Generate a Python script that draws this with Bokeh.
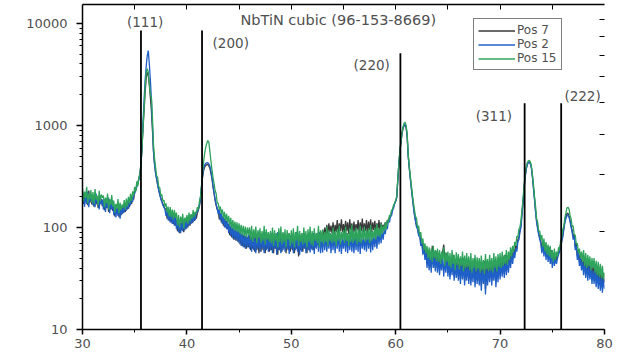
import numpy as np
from bokeh.plotting import figure
from bokeh.models import (Range1d, LinearAxis, FixedTicker, Legend, LegendItem)
from bokeh.core.properties import value
from bokeh.embed import file_html
from bokeh.resources import INLINE

# ---------------- data ----------------
two_theta = np.round(np.arange(30.0, 80.0001, 0.1), 1)

pos15 = [
    240, 180, 225, 195, 250, 172, 215, 188, 232, 176,
    222, 170, 238, 186, 205, 165, 228, 180, 210, 196,
    205, 158, 196, 172, 215, 150, 190, 166, 208, 160,
    182, 140, 170, 152, 190, 138, 175, 148, 168, 156,
    185, 150, 192, 160, 200, 172, 214, 182, 226, 205,
    250, 225, 282, 255, 310, 330, 420, 600, 1000, 1500,
    2400, 3300, 3600, 3350, 2600, 2000, 1900, 1200, 650, 480,
    390, 320, 310, 250, 245, 205, 210, 180, 185, 160,
    172, 140, 160, 128, 158, 126, 150, 120, 148, 124,
    140, 105, 132, 100, 128, 110, 136, 98, 125, 112,
    132, 108, 140, 115, 135, 122, 148, 126, 142, 138,
    158, 150, 180, 200, 260, 350, 440, 530, 610, 665,
    710, 690, 560, 450, 370, 310, 270, 230, 215, 175,
    172, 150, 160, 136, 150, 124, 142, 116, 136, 112,
    130, 104, 124, 98, 118, 94, 114, 92, 112, 90,
    110, 86, 106, 84, 104, 82, 102, 80, 100, 84,
    100, 76, 104, 72, 96, 78, 102, 70, 94, 80,
    98, 70, 92, 74, 104, 68, 96, 76, 90, 72,
    92, 70, 100, 66, 94, 74, 88, 64, 98, 72,
    102, 68, 90, 72, 96, 64, 94, 76, 88, 66,
    94, 70, 98, 64, 90, 74, 104, 66, 92, 72,
    88, 68, 100, 70, 92, 64, 96, 72, 102, 68,
    92, 66, 98, 74, 88, 70, 104, 64, 94, 72,
    96, 68, 90, 72, 102, 66, 94, 74, 88, 70,
    100, 72, 92, 66, 96, 74, 104, 68, 90, 76,
    94, 70, 102, 74, 88, 66, 98, 72, 106, 70,
    92, 74, 100, 68, 96, 72, 104, 70, 94, 76,
    102, 72, 94, 76, 98, 70, 106, 74, 92, 78,
    100, 76, 108, 82, 98, 80, 110, 86, 104, 92,
    112, 96, 118, 112, 132, 128, 148, 150, 166, 172,
    185, 200, 300, 420, 560, 700, 850, 960, 1050, 1075,
    1000, 820, 520, 400, 320, 260, 210, 175, 148, 128,
    122, 98, 104, 82, 90, 70, 78, 60, 70, 56,
    66, 50, 64, 48, 62, 46, 66, 50, 60, 47,
    62, 46, 60, 44, 58, 48, 64, 42, 57, 46,
    58, 42, 56, 40, 60, 44, 54, 38, 57, 43,
    55, 39, 52, 42, 58, 37, 53, 40, 56, 41,
    52, 38, 56, 36, 50, 40, 54, 37, 51, 39,
    50, 36, 53, 38, 48, 35, 55, 39, 49, 37,
    54, 38, 50, 36, 56, 40, 52, 37, 55, 41,
    56, 40, 58, 42, 54, 44, 60, 43, 58, 48,
    64, 52, 66, 58, 72, 66, 82, 80, 96, 100,
    118, 150, 190, 260, 330, 390, 430, 450, 455, 440,
    400, 330, 260, 200, 160, 122, 112, 92, 92, 76,
    84, 64, 78, 58, 72, 54, 68, 52, 66, 50,
    60, 46, 62, 48, 58, 52, 64, 60, 74, 78,
    95, 102, 124, 138, 155, 158, 152, 132, 122, 102,
    104, 84, 84, 68, 70, 56, 62, 50, 58, 46,
    60, 42, 56, 40, 54, 42, 52, 38, 50, 40,
    50, 36, 47, 34, 46, 33, 44, 32, 42, 31,
    36,
]

pos2 = [
    175, 215, 160, 205, 170, 225, 158, 198, 182, 210,
    165, 205, 158, 215, 172, 192, 150, 200, 168, 188,
    150, 190, 142, 182, 156, 196, 138, 175, 150, 185,
    132, 165, 125, 158, 130, 170, 122, 155, 135, 162,
    140, 172, 146, 180, 152, 188, 165, 196, 178, 205,
    215, 240, 250, 275, 295, 325, 400, 620, 1100, 1800,
    2800, 3800, 4800, 5400, 4000, 2800, 1800, 1000, 560, 420,
    340, 300, 260, 230, 210, 190, 178, 165, 158, 150,
    130, 156, 118, 148, 112, 140, 108, 136, 104, 130,
    96, 122, 90, 118, 88, 114, 92, 120, 94, 116,
    98, 126, 104, 130, 108, 134, 112, 140, 118, 142,
    140, 152, 165, 195, 250, 320, 380, 410, 425, 430,
    432, 420, 400, 360, 310, 260, 220, 190, 170, 155,
    135, 150, 118, 140, 108, 130, 100, 122, 96, 118,
    88, 112, 82, 106, 78, 102, 76, 98, 74, 96,
    70, 94, 66, 90, 64, 88, 62, 86, 64, 84,
    62, 84, 58, 88, 60, 82, 56, 86, 62, 80,
    58, 86, 62, 80, 56, 90, 60, 84, 58, 82,
    60, 88, 56, 82, 62, 86, 54, 90, 60, 80,
    56, 84, 60, 88, 58, 80, 62, 86, 55, 84,
    62, 86, 56, 82, 60, 90, 58, 84, 54, 80,
    58, 82, 62, 88, 56, 84, 60, 80, 57, 86,
    60, 88, 55, 82, 62, 86, 58, 90, 56, 82,
    57, 84, 60, 86, 58, 80, 62, 88, 56, 84,
    60, 86, 56, 82, 62, 88, 58, 84, 55, 80,
    62, 84, 58, 88, 56, 82, 60, 86, 58, 84,
    56, 86, 60, 82, 58, 88, 55, 84, 62, 80,
    60, 84, 58, 88, 62, 82, 57, 86, 60, 84,
    64, 88, 62, 90, 68, 92, 70, 94, 76, 96,
    86, 104, 96, 116, 112, 128, 130, 148, 155, 172,
    180, 195, 290, 410, 550, 690, 840, 950, 1010, 1020,
    960, 780, 500, 380, 300, 240, 195, 160, 132, 115,
    100, 96, 82, 84, 66, 72, 54, 64, 48, 58,
    40, 56, 38, 54, 36, 58, 40, 52, 37, 55,
    36, 52, 34, 50, 38, 54, 33, 48, 36, 52,
    33, 48, 31, 46, 34, 50, 30, 45, 32, 47,
    30, 45, 28, 44, 31, 46, 27, 42, 30, 44,
    28, 43, 27, 41, 29, 44, 26, 40, 28, 42,
    27, 42, 24, 40, 28, 43, 22, 41, 27, 40,
    29, 43, 27, 42, 30, 44, 26, 41, 29, 45,
    31, 46, 33, 48, 32, 50, 34, 48, 36, 52,
    40, 54, 44, 58, 50, 62, 58, 72, 76, 90,
    100, 135, 175, 240, 310, 370, 410, 430, 435, 420,
    380, 310, 240, 185, 140, 112, 96, 84, 76, 70,
    56, 70, 52, 66, 48, 62, 46, 60, 44, 56,
    40, 52, 42, 50, 44, 50, 54, 58, 64, 72,
    80, 95, 110, 122, 130, 132, 126, 114, 100, 90,
    76, 82, 60, 66, 48, 56, 42, 50, 38, 46,
    34, 46, 32, 44, 30, 42, 31, 40, 28, 38,
    28, 38, 26, 36, 25, 34, 24, 33, 23, 32,
    25,
]

pos7 = [
    210, 170, 222, 178, 205, 165, 230, 175, 200, 168,
    198, 160, 212, 168, 195, 155, 205, 170, 190, 162,
    182, 148, 192, 155, 178, 142, 188, 150, 175, 145,
    160, 128, 168, 135, 155, 126, 162, 132, 158, 138,
    165, 142, 172, 150, 180, 158, 190, 170, 200, 188,
    225, 230, 255, 270, 300, 340, 420, 600, 950, 1400,
    2100, 2900, 3300, 3100, 2500, 1900, 1400, 900, 560, 420,
    345, 300, 265, 235, 212, 195, 180, 170, 160, 152,
    152, 122, 146, 116, 140, 112, 134, 108, 128, 104,
    118, 92, 114, 88, 110, 94, 116, 90, 112, 96,
    122, 100, 128, 104, 132, 110, 136, 116, 140, 122,
    138, 148, 162, 190, 245, 310, 360, 390, 405, 412,
    415, 400, 380, 340, 300, 250, 215, 185, 165, 150,
    148, 120, 138, 112, 128, 104, 122, 100, 116, 96,
    108, 84, 102, 80, 98, 76, 94, 74, 92, 72,
    90, 68, 86, 66, 84, 64, 82, 62, 80, 64,
    84, 60, 80, 62, 86, 58, 82, 60, 84, 56,
    82, 58, 86, 60, 80, 56, 88, 62, 82, 58,
    86, 60, 82, 56, 88, 62, 80, 54, 84, 60,
    80, 58, 86, 62, 82, 56, 84, 60, 88, 58,
    84, 60, 80, 56, 86, 62, 82, 52, 84, 60,
    88, 58, 82, 62, 84, 56, 86, 60, 80, 62,
    82, 60, 86, 64, 84, 68, 90, 72, 88, 76,
    94, 80, 100, 84, 106, 86, 110, 90, 104, 88,
    112, 86, 106, 90, 118, 88, 110, 92, 120, 90,
    108, 88, 116, 92, 112, 86, 120, 94, 110, 88,
    114, 90, 108, 94, 118, 88, 112, 92, 122, 90,
    110, 92, 118, 88, 114, 94, 120, 90, 112, 94,
    116, 92, 110, 96, 118, 90, 112, 98, 106, 100,
    112, 104, 118, 116, 126, 128, 140, 148, 162, 172,
    182, 198, 292, 412, 545, 680, 820, 930, 990, 1005,
    950, 770, 500, 385, 305, 245, 198, 162, 134, 116,
    104, 100, 86, 88, 70, 76, 58, 66, 52, 62,
    44, 60, 42, 58, 40, 66, 44, 56, 40, 58,
    40, 56, 38, 54, 42, 58, 68, 52, 40, 56,
    36, 52, 34, 50, 37, 54, 33, 49, 35, 51,
    33, 49, 31, 48, 34, 50, 30, 46, 33, 48,
    31, 47, 30, 45, 32, 48, 29, 44, 31, 46,
    30, 46, 27, 44, 31, 47, 25, 45, 30, 44,
    32, 47, 30, 46, 33, 48, 29, 45, 32, 49,
    34, 50, 36, 52, 35, 54, 37, 52, 39, 56,
    44, 58, 48, 62, 54, 66, 62, 76, 80, 94,
    105, 140, 180, 245, 315, 375, 415, 435, 440, 425,
    385, 315, 245, 190, 145, 116, 100, 88, 80, 74,
    60, 74, 56, 70, 52, 66, 50, 64, 48, 60,
    44, 56, 46, 54, 48, 54, 58, 62, 68, 76,
    84, 98, 115, 128, 136, 138, 130, 118, 104, 94,
    80, 86, 64, 70, 52, 60, 46, 54, 42, 50,
    38, 50, 36, 48, 34, 46, 35, 44, 32, 42,
    32, 42, 30, 40, 29, 38, 28, 37, 27, 36,
    29,
]

# reference pattern NbTiN cubic (96-153-8669)
ref_pos = [35.6, 41.45, 60.45, 72.35, 75.85]
ref_top = [8500, 8500, 5080, 1650, 1650]
ref_labels = ["(111)", "(200)", "(220)", "(311)", "(222)"]
ref_label_x = [36.0, 44.2, 57.7, 69.4, 77.9]
ref_label_y = [10400, 6350, 3870, 1250, 1960]
title_text = "NbTiN cubic (96-153-8669)"

x_ticks = [30, 40, 50, 60, 70, 80]
y_ticks = [10, 100, 1000, 10000]
y_tick_labels = ["10", "100", "1000", "10000"]

assert len(pos15) == len(two_theta) == len(pos2) == len(pos7)

FONT = "DejaVu Sans"
TXT = "#505050"

p = figure(width=620, height=352, x_range=Range1d(30, 80),
           y_range=Range1d(10, 15300), y_axis_type="log",
           output_backend="svg", toolbar_location=None,
           min_border_left=82, min_border_right=16,
           min_border_top=4, min_border_bottom=23)
p.background_fill_color = "white"
p.border_fill_color = "white"
p.outline_line_color = None
p.grid.visible = False

r7 = p.line(two_theta, pos7, line_color="#3a3a3a", line_width=1.3)
r2 = p.line(two_theta, pos2, line_color="#1f5fc8", line_width=1.3)
r15 = p.line(two_theta, pos15, line_color="#2ea35c", line_width=1.3)

p.segment(x0=ref_pos, y0=[10] * len(ref_pos), x1=ref_pos, y1=ref_top,
          line_color="black", line_width=1.8)

p.text(x=ref_label_x, y=ref_label_y, text=ref_labels,
       text_font=value(FONT), text_font_size="13.5px", text_color=TXT,
       text_align="center", text_baseline="middle")
p.text(x=[54.5], y=[10700], text=[title_text],
       text_font=value(FONT), text_font_size="14.5px", text_color=TXT,
       text_align="center", text_baseline="middle")

# bottom axis
xa = p.xaxis[0]
xa.ticker = FixedTicker(ticks=x_ticks, minor_ticks=[35, 45, 55, 65, 75])
xa.major_tick_out = 5
xa.major_tick_in = 0
xa.minor_tick_out = 3
xa.minor_tick_in = 0
xa.axis_line_width = 1.5
xa.major_tick_line_width = 1.5
xa.axis_line_color = "black"
xa.major_label_text_font = FONT
xa.major_label_text_font_size = "13px"
xa.major_label_text_color = TXT
xa.major_label_standoff = 4

# left axis
ya = p.yaxis[0]
minor_y = [m * 10 ** e for e in range(1, 4) for m in range(2, 10)]
ya.ticker = FixedTicker(ticks=y_ticks, minor_ticks=minor_y)
ya.major_label_overrides = {t: l for t, l in zip(y_ticks, y_tick_labels)}
ya.major_tick_out = 6
ya.major_tick_in = 0
ya.minor_tick_out = 3
ya.minor_tick_in = 0
ya.axis_line_width = 1.5
ya.major_tick_line_width = 1.5
ya.axis_line_color = "black"
ya.major_label_text_font = FONT
ya.major_label_text_font_size = "13px"
ya.major_label_text_color = TXT
ya.major_label_standoff = 9

# top axis (ticks only)
top = LinearAxis(ticker=FixedTicker(ticks=[35, 40, 45, 50, 55, 60, 65, 70, 75]))
top.major_tick_in = 5
top.major_tick_out = 0
top.minor_tick_line_color = None
top.major_label_text_font_size = "1px"
top.major_label_text_color = None
top.major_label_standoff = 0
top.axis_line_width = 1.5
top.axis_line_color = "black"
p.add_layout(top, "above")

# right axis (ticks only, equal linear divisions)
p.extra_y_ranges = {"lin": Range1d(0, 10.03)}
right = LinearAxis(y_range_name="lin", ticker=FixedTicker(ticks=[1, 2, 3, 4, 5, 6, 7, 8, 9]))
right.major_tick_in = 5
right.major_tick_out = 0
right.minor_tick_line_color = None
right.major_label_text_font_size = "1px"
right.major_label_text_color = None
right.major_label_standoff = 0
right.axis_line_width = 1.5
right.axis_line_color = "black"
p.add_layout(right, "right")

legend = Legend(items=[LegendItem(label="Pos 7", renderers=[r7]),
                       LegendItem(label="Pos 2", renderers=[r2]),
                       LegendItem(label="Pos 15", renderers=[r15])],
                location=(391, 259))
legend.border_line_color = "black"
legend.border_line_width = 1.5
legend.background_fill_alpha = 1
legend.padding = 4
legend.spacing = 0
legend.margin = 0
legend.glyph_width = 37
legend.glyph_height = 13
legend.label_height = 13
legend.label_standoff = 2
legend.label_text_font = FONT
legend.label_text_font_size = "12px"
legend.label_text_color = TXT
p.add_layout(legend, "center")

open("out.html", "w").write(file_html(p, INLINE))
